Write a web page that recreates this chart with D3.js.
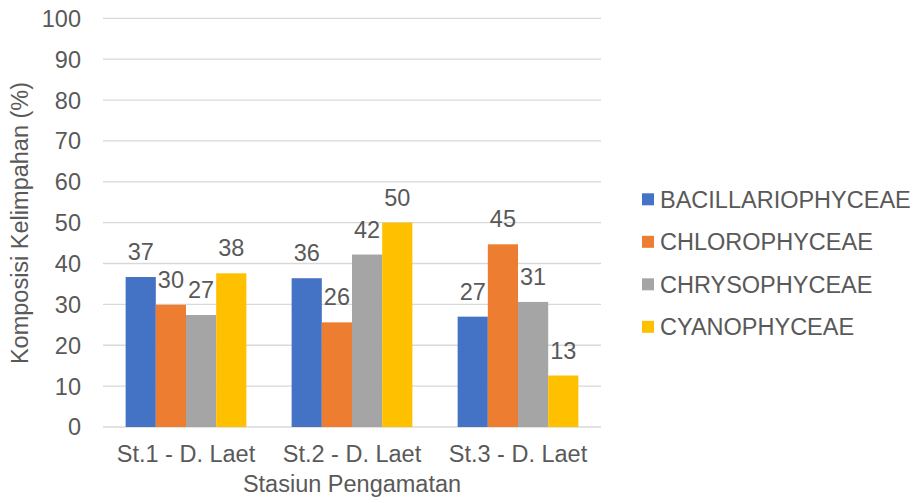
<!DOCTYPE html>
<html>
<head>
<meta charset="utf-8">
<script src="https://cdn.jsdelivr.net/npm/d3@7"></script>
<style>
  html, body { margin: 0; padding: 0; background: #fff; }
  svg text { font-family: "Liberation Sans", Arial, sans-serif; fill: #595959; }
</style>
</head>
<body>
<svg id="chart" width="917" height="504"></svg>
<script>
const categories = ["St.1 - D. Laet", "St.2 - D. Laet", "St.3 - D. Laet"];
const seriesNames = ["BACILLARIOPHYCEAE", "CHLOROPHYCEAE", "CHRYSOPHYCEAE", "CYANOPHYCEAE"];
const bacillariophyceae = [36.7, 36.4, 27.0];
const chlorophyceae = [29.9, 25.6, 44.7];
const chrysophyceae = [27.4, 42.2, 30.6];
const cyanophyceae = [37.6, 50.0, 12.6];
const yTicks = [0, 10, 20, 30, 40, 50, 60, 70, 80, 90, 100];
const colors = ["#4472C4", "#ED7D31", "#A5A5A5", "#FFC000"];

const seriesValues = [bacillariophyceae, chlorophyceae, chrysophyceae, cyanophyceae];

const svg = d3.select("#chart");
const fs = 23.5;
const plot = { left: 103, right: 601, top: 18.3, bottom: 427 };

const x0 = d3.scaleBand().domain(categories).range([plot.left, plot.right]).paddingInner(0).paddingOuter(0);
const bw = x0.bandwidth();
const barW = bw / (seriesNames.length + 1.5);
const gap = bw - barW * seriesNames.length;
const x1 = d3.scaleBand().domain(seriesNames).range([gap / 2, bw - gap / 2]).padding(0);
const y = d3.scaleLinear().domain([0, 100]).range([plot.bottom, plot.top]);

// gridlines
svg.append("g").selectAll("line").data(yTicks).join("line")
  .attr("x1", plot.left).attr("x2", plot.right)
  .attr("y1", d => y(d)).attr("y2", d => y(d))
  .attr("stroke", "#D9D9D9").attr("stroke-width", 1.3);

// y tick labels
svg.append("g").selectAll("text").data(yTicks).join("text")
  .attr("x", 81).attr("y", d => y(d)).attr("dy", "0.36em")
  .attr("text-anchor", "end").attr("font-size", fs)
  .text(d => d);

// bars
const groups = svg.append("g").selectAll("g").data(categories).join("g")
  .attr("transform", c => `translate(${x0(c)},0)`);

groups.each(function(c, ci) {
  const g = d3.select(this);
  seriesNames.forEach((s, si) => {
    const v = seriesValues[si][ci];
    g.append("rect")
      .attr("x", x1(s)).attr("width", x1.bandwidth())
      .attr("y", y(v)).attr("height", y(0) - y(v))
      .attr("fill", colors[si]);
    g.append("text")
      .attr("x", x1(s) + x1.bandwidth() / 2)
      .attr("y", y(v) - 17)
      .attr("text-anchor", "middle").attr("font-size", fs)
      .text(Math.round(v));
  });
});

// x tick labels
svg.append("g").selectAll("text").data(categories).join("text")
  .attr("x", c => x0(c) + bw / 2).attr("y", 462)
  .attr("text-anchor", "middle").attr("font-size", fs)
  .text(c => c);

// axis titles
svg.append("text")
  .attr("x", (plot.left + plot.right) / 2).attr("y", 492)
  .attr("text-anchor", "middle").attr("font-size", fs)
  .text("Stasiun Pengamatan");

svg.append("text")
  .attr("transform", "translate(28,223) rotate(-90)")
  .attr("text-anchor", "middle").attr("font-size", fs)
  .text("Komposisi Kelimpahan (%)");

// legend
const leg = svg.append("g").selectAll("g").data(seriesNames).join("g")
  .attr("transform", (d, i) => `translate(642,${199.3 + i * 42.5})`);
leg.append("rect").attr("x", 0).attr("y", -6).attr("width", 12).attr("height", 12)
  .attr("fill", (d, i) => colors[i]);
leg.append("text").attr("x", 18).attr("y", 0).attr("dy", "0.36em")
  .attr("font-size", fs).text(d => d);
</script>
</body>
</html>
